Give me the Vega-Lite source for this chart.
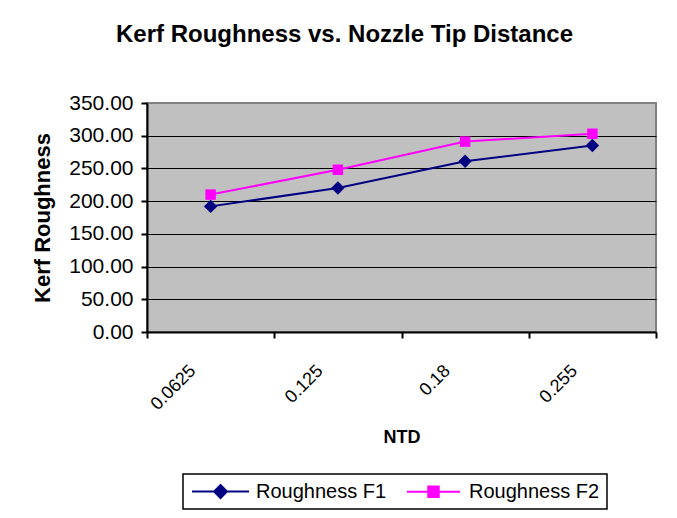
{
  "$schema": "https://vega.github.io/schema/vega-lite/v6.json",
  "autosize": "none",
  "width": 509,
  "height": 229,
  "padding": {"left": 147, "top": 103, "right": 21, "bottom": 186},
  "background": "white",
  "title": {
    "text": "Kerf Roughness vs. Nozzle Tip Distance",
    "font": "Liberation Sans",
    "fontSize": 24,
    "fontWeight": "bold",
    "color": "black",
    "anchor": "middle",
    "dx": -57,
    "offset": 45
  },
  "config": {
    "font": "Liberation Sans",
    "view": {"fill": "#C0C0C0", "stroke": "#808080", "strokeWidth": 2}
  },
  "data": {
    "values": [
      {"NTD": "0.0625", "series": "Roughness F1", "roughness": 192},
      {"NTD": "0.125", "series": "Roughness F1", "roughness": 220},
      {"NTD": "0.18", "series": "Roughness F1", "roughness": 261},
      {"NTD": "0.255", "series": "Roughness F1", "roughness": 285},
      {"NTD": "0.0625", "series": "Roughness F2", "roughness": 210},
      {"NTD": "0.125", "series": "Roughness F2", "roughness": 248},
      {"NTD": "0.18", "series": "Roughness F2", "roughness": 291},
      {"NTD": "0.255", "series": "Roughness F2", "roughness": 303}
    ]
  },
  "encoding": {
    "x": {
      "field": "NTD",
      "type": "nominal",
      "sort": null,
      "scale": {"paddingInner": 0, "paddingOuter": 0},
      "axis": {
        "title": "NTD",
        "titleFont": "Liberation Sans",
        "titleFontSize": 18,
        "titleFontWeight": "bold",
        "titleColor": "black",
        "titleY": 105,
        "titleBaseline": "middle",
        "labelAngle": -45,
        "labelAlign": "right",
        "labelBaseline": "middle",
        "labelFont": "Liberation Sans",
        "labelFontSize": 18,
        "labelColor": "black",
        "labelOffset": -18,
        "labelPadding": 30,
        "tickBand": "extent",
        "ticks": true,
        "tickSize": 6,
        "tickColor": "black",
        "tickWidth": 2,
        "domainColor": "black",
        "domainWidth": 2,
        "grid": false
      }
    },
    "y": {
      "field": "roughness",
      "type": "quantitative",
      "scale": {"domain": [0, 350]},
      "axis": {
        "values": [0, 50, 100, 150, 200, 250, 300, 350],
        "format": ".2f",
        "labelFont": "Liberation Sans",
        "labelFontSize": 21,
        "labelColor": "black",
        "labelPadding": 8,
        "tickSize": 6,
        "tickColor": "black",
        "tickWidth": 2,
        "domainColor": "black",
        "domainWidth": 2,
        "grid": true,
        "gridColor": {"condition": {"test": "datum.value === 350 || datum.value === 0", "value": "#808080"}, "value": "black"},
        "gridWidth": 1,
        "title": "Kerf Roughness",
        "titleFont": "Liberation Sans",
        "titleFontSize": 22,
        "titleFontWeight": "bold",
        "titleColor": "black",
        "titlePadding": 14
      }
    }
  },
  "layer": [
    {
      "mark": {"type": "line", "strokeWidth": 2},
      "encoding": {
        "color": {
          "field": "series",
          "type": "nominal",
          "scale": {"domain": ["Roughness F1", "Roughness F2"], "range": ["#000080", "#FF00FF"]},
          "legend": {
            "orient": "none",
            "legendX": 36,
            "legendY": 371,
            "direction": "horizontal",
            "title": null,
            "strokeColor": "black",
            "fillColor": "white",
            "padding": 7,
            "labelFont": "Liberation Sans",
            "labelFontSize": 20,
            "labelColor": "black",
            "symbolSize": 361,
            "symbolStrokeWidth": 2,
            "symbolOffset": 20,
            "labelOffset": 25,
            "columnPadding": 15,
            "encode": {
              "legend": {"update": {"strokeWidth": {"value": 1.5}}},
              "symbols": {
                "update": {
                  "shape": {"signal": "datum.value === 'Roughness F1' ? 'M-3,0H3M0,-0.68L0.68,0L0,0.68L-0.68,0Z' : 'M-2.8,0H2.8M-0.55,-0.55H0.55V0.55H-0.55Z'"},
                  "fill": {"signal": "datum.value === 'Roughness F1' ? '#000080' : '#FF00FF'"},
                  "stroke": {"signal": "datum.value === 'Roughness F1' ? '#000080' : '#FF00FF'"},
                  "opacity": {"value": 1},
                  "fillOpacity": {"value": 1}
                }
              }
            }
          }
        }
      }
    },
    {
      "transform": [{"filter": "datum.series === 'Roughness F1'"}],
      "mark": {"type": "point", "shape": "diamond", "filled": true, "size": 180, "color": "#000080", "opacity": 1}
    },
    {
      "transform": [{"filter": "datum.series === 'Roughness F2'"}],
      "mark": {"type": "point", "shape": "square", "filled": true, "size": 110, "color": "#FF00FF", "opacity": 1}
    }
  ]
}
